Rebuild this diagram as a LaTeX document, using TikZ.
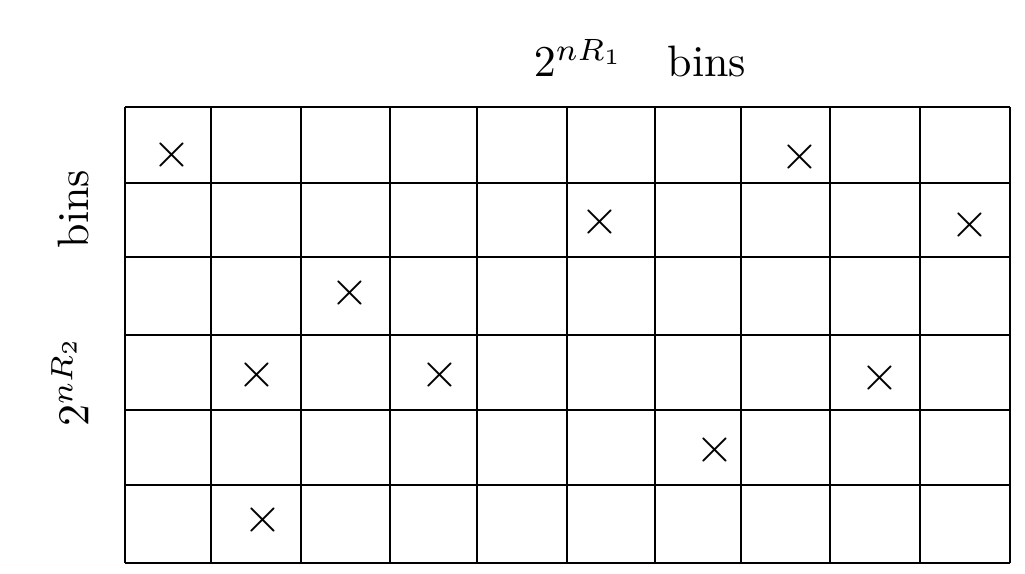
\documentclass[tikz,border=0pt]{standalone}
\begin{document}
\begin{tikzpicture}[x=1pt,y=-1pt,
  gridline/.style={line width=2pt,black},
  xmark/.style={scale=5},
  lbl/.style={scale=4.4}]
\useasboundingbox (0,0) rectangle (1025,573);
\foreach \x in {125,211,301,390,477,567,655,741,830,920,1010}
  \draw[gridline] (\x,107) -- (\x,563);
\foreach \y in {107,183,257,335,410,485,563}
  \draw[gridline] (125,\y) -- (1010,\y);
\node[xmark] (m1) at (172,155) {$\times$};
\node[xmark] (m2) at (800,157) {$\times$};
\node[xmark] (m3) at (600,222) {$\times$};
\node[xmark] (m4) at (970,225) {$\times$};
\node[xmark] (m5) at (350,293) {$\times$};
\node[xmark] (m6) at (257,375) {$\times$};
\node[xmark] (m7) at (440,375) {$\times$};
\node[xmark] (m8) at (880,378) {$\times$};
\node[xmark] (m9) at (715,450) {$\times$};
\node[xmark] (m10) at (263,520) {$\times$};
\node[lbl] (top) at (640,58) {$2^{nR_1}$\quad bins};
\node[lbl,rotate=90] (left) at (70,298) {$2^{nR_2}$\qquad bins};
\end{tikzpicture}
\end{document}
